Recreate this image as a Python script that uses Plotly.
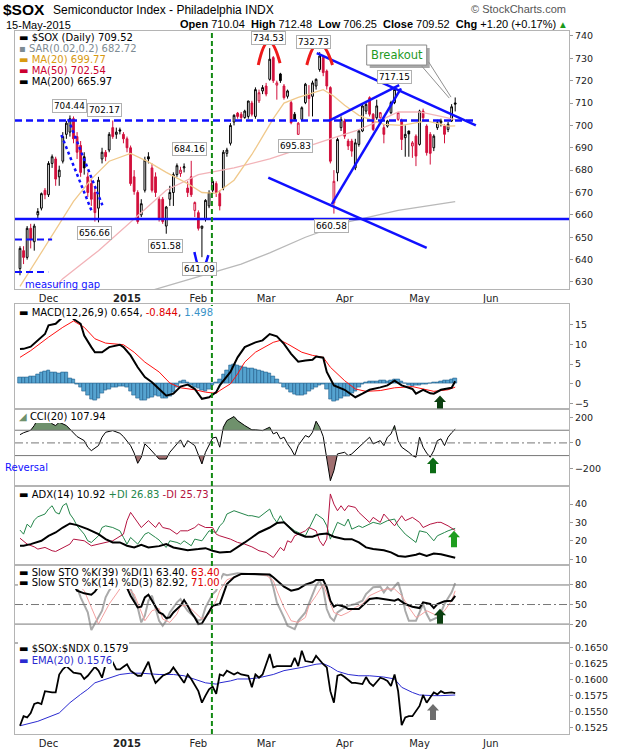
import numpy as np
import pandas as pd
import plotly.graph_objects as go

# trading calendar (NYSE holidays inside the window)
HOLIDAYS = ["2014-11-27", "2014-12-25", "2015-01-01", "2015-01-19",
            "2015-02-16", "2015-04-03", "2015-05-25"]
sessions = pd.bdate_range("2014-11-18", "2015-06-30", freq="C", holidays=HOLIDAYS)

# ---- $SOX daily candles, 18-Nov-2014 .. 15-May-2015 ----
opens = [636, 644, 641, 654, 648, 660, 663, 671, 669, 683,
         685, 677, 684, 696, 697, 703, 695, 691, 686, 677,
         674, 670, 663, 685, 688, 689, 699, 696, 698, 696,
         694, 690, 677, 670, 660, 671, 686, 681, 677, 667,
         667, 655, 667, 670, 678, 678.5, 681, 672, 677, 662,
         661, 654, 658, 664, 671, 674, 669.5, 672, 687.5, 692,
         701.5, 705.5, 705, 703.5, 704, 710, 704, 711, 715.4, 717.6,
         720.6, 730.3, 718, 723, 717.6, 713, 710.2, 705, 696, 702.7,
         710.2, 714, 713, 717.6, 725, 730.3, 724.3, 716.9, 665.4, 678.8,
         699, 702, 693, 693, 681, 691.5, 697.5, 706.4, 712.4, 705,
         703.4, 703.4, 699, 699.7, 705.7, 710.2, 702.7, 702, 694.5, 697.5,
         690.8, 695.2, 691.5, 706.4, 699.7, 696, 690, 699, 701.2, 699.7,
         698.2, 702, 710.04]
highs = [646, 646, 655, 656, 656, 663, 670, 672, 684, 687,
         686, 682, 697, 702, 704.44, 704, 697, 693, 688, 679,
         676, 672, 677, 690, 689, 697, 702.17, 699, 699, 697,
         695, 691, 680, 671, 667, 686, 688, 683, 679, 668,
         668, 664, 673, 679, 683, 681.5, 683, 675, 684.16, 666,
         662, 655, 667, 671, 676, 675, 671, 689, 690, 701,
         705, 706, 706, 707, 711, 711, 717, 716, 718, 719,
         734.53, 731, 720, 723.5, 718.5, 716, 711, 706, 701.5, 708.5,
         719, 718, 720, 721, 732.73, 731.5, 725, 717.5, 680, 694.5,
         704, 703, 694, 694, 694, 698, 709, 710, 713, 705.5,
         711.5, 706, 700.5, 702.5, 711, 717.15, 706, 703, 700, 697.6,
         693, 696, 707, 707.5, 700.5, 697, 696, 702.5, 703, 700.5,
         701.5, 709.5, 712.48]
lows = [633, 638, 640, 645, 644, 658, 662, 667, 668, 681,
        673, 673, 683, 694, 695, 692, 685, 677, 678, 668,
        664, 657, 656.66, 683, 684, 688, 694, 694, 696, 692,
        688, 673, 669, 656, 659, 670, 683, 670, 668, 657,
        656, 651.58, 664, 664, 677, 677, 679, 668, 668, 659,
        653, 641.09, 657, 663, 670, 668, 662, 671, 686, 691,
        700, 703, 702, 703, 703, 704, 703, 710, 714, 713,
        720, 719, 711.5, 719, 711.5, 712, 700.5, 702, 695.83, 702,
        709.5, 704, 704, 716, 724, 722, 716, 683, 660.58, 675,
        697.5, 694, 689, 686, 680, 690.5, 697, 705, 704, 697.5,
        702.5, 703, 692, 699, 705, 709.5, 702, 689, 686, 686,
        685.5, 681.8, 691, 702.5, 686.5, 682.5, 688.5, 698, 699.5, 692,
        697, 701.5, 706.25]
closes = [645, 641, 654, 649, 655, 661.5, 669.5, 669, 683, 686,
          676, 680, 695, 701, 703, 694, 688, 679, 681, 670,
          667, 661, 675.5, 688, 686, 696, 695, 697, 697.5, 694,
          690, 674, 670.5, 657, 665, 684.5, 685, 671, 670, 658.5,
          657, 663.5, 670, 678, 682, 680, 681.5, 670, 669, 665.5,
          654, 655, 666.5, 670, 675, 670, 664, 688, 689, 700,
          704.5, 704, 703.5, 706.4, 710.9, 705, 716, 714.6, 716.9, 714,
          729.6, 720, 719, 720, 712.4, 715.4, 701.2, 702.7, 701, 707.9,
          718.4, 712, 719, 720.6, 731, 723.6, 717.6, 684, 675, 693.7,
          702.7, 695.2, 690.8, 688.5, 692.2, 697.5, 708.7, 709.4, 705, 698.2,
          708.7, 705.7, 696, 702, 710.2, 716.1, 705.7, 693.7, 696, 696.2,
          692.2, 686.3, 706.4, 703.4, 687.8, 687.5, 695.2, 701.2, 702, 696,
          700.5, 708.32, 709.52]

# overlays on the price panel (session number -> value)
ma20_day = [0, 4, 8, 11, 15, 20, 25, 31, 36, 41, 47, 51, 55, 60, 62, 65, 68, 71, 74, 78,
            81, 85, 88, 91, 95, 98, 102, 107, 114, 120, 122]
ma20_val = [628, 638, 648, 656, 666, 676, 684, 687.5, 683.7, 679, 674, 670, 669.6, 675.5, 680,
            687, 695, 703, 710, 712.5, 714, 716, 713, 709, 704.5, 702.7, 700.5, 700, 702,
            699.7, 699.77]
ma50_day = [10, 12, 22, 32, 41, 50, 60, 70, 80, 87, 94, 100, 106, 112, 118, 122]
ma50_val = [628, 631.5, 644, 658, 671, 678, 681, 685, 690.5, 694, 697.5, 701.5, 706, 706,
            704, 702.54]
ma200_day = [30, 38, 45, 54, 62, 70, 80, 92, 106, 122]
ma200_val = [623, 626.7, 630, 634, 638, 643, 650, 656.9, 662, 665.97]

# MACD(12,26,9)
macd_day = [0, 1, 3, 5, 7, 8, 10, 12, 13, 14, 15, 17, 18, 20, 21, 23, 25, 28, 29, 31,
            33, 35, 37, 39, 41, 43, 45, 47, 49, 51, 53, 55, 56, 59, 61, 63, 66, 68, 70, 72,
            74, 76, 78, 80, 82, 83, 85, 86, 88, 91, 94, 96, 98, 101, 103, 105, 107, 110, 111, 113,
            115, 116, 118, 121, 122]
macd_val = [8.8, 8.85, 9.4, 11.0, 12.6, 14.8, 15.2, 16.9, 17.8, 17.6, 16.4, 15.2, 12.2, 9.3, 8.0,
            8.0, 9.3, 9.9, 9.3, 7.2, 4.2, 1.7, 0.4, -1.3, -3.0, -2.5, -0.7, -0.2, -1.3, -3.8,
            -3.4, -2.1, -0.4, 3.0, 6.7, 9.3, 10.5, 11.0, 12.6, 12.0, 10.1, 7.6, 5.6, 5.9, 6.1,
            6.9, 6.6, 3.0, -0.4, -1.5, -3.4, -2.5, -1.5, -0.9, -0.4, 0.8, -0.4, -1.3, -2.5, -1.5,
            -2.4, -2.5, -1.5, -1.0, 0.654]
signal_day = [0, 3, 8, 12, 15, 18, 21, 24, 29, 32, 35, 39, 42, 45, 49, 52, 55, 56, 59, 61,
              63, 66, 71, 73, 75, 79, 82, 85, 87, 91, 94, 97, 101, 105, 110, 113, 116, 120, 122]
signal_val = [6.7, 8.4, 11.8, 14.3, 15.9, 14.3, 11.4, 10.3, 9.9, 8.0, 5.5, 3.0, 0.2, -1.0, -1.5,
              -2.1, -2.4, -1.7, 0.0, 2.5, 5.5, 8.0, 10.5, 11.0, 10.1, 8.0, 7.2, 6.7, 4.2, 0.8,
              -1.3, -1.9, -1.7, -1.0, -0.7, -1.3, -1.9, -1.5, -0.844]
macd_hist = [1.7, 1.6, 1.6, 1.8, 1.9, 2.5, 2.8, 3.2, 3.3, 3.0,
             2.8, 2.7, 3.0, 2.8, 1.5, 1.2, -0.2, -1.0, -2.0, -3.0,
             -4.0, -4.3, -3.6, -2.5, -1.7, -1.3, -1.0, -0.8, -0.6, -0.7,
             -1.0, -1.8, -2.8, -3.6, -4.3, -4.2, -3.6, -3.4, -3.0, -3.2,
             -3.8, -3.7, -3.2, -2.2, -0.8, 0.5, 0.8, 0.3, -0.4, -0.8,
             -1.2, -1.6, -1.8, -1.4, -0.5, 0.3, 1.0, 2.3, 3.5, 4.6,
             4.8, 4.7, 4.5, 4.2, 4.0, 3.8, 3.6, 3.4, 3.2, 3.0,
             2.6, 1.9, 1.0, 0.0, -0.8, -1.4, -2.2, -2.7, -3.0, -3.0,
             -2.6, -1.8, -1.4, -0.8, -0.5, -0.2, -1.5, -4.0, -4.4, -4.2,
             -3.6, -3.3, -3.1, -2.5, -1.8, -1.0, -0.2, 0.3, 0.5, 0.6,
             0.7, 0.8, 0.9, 0.6, 0.8, 1.0, 1.2, 0.7, 0.0, -0.5,
             -0.7, -0.5, -0.4, -0.2, -0.1, 0.1, 0.3, 0.4, 0.6, 0.8,
             0.9, 1.2, 1.498]

# CCI(20)
cci_day = [0, 1, 3, 4, 5, 7, 8, 9, 10, 11, 13, 14, 16, 18, 19, 20, 22, 23, 24, 26,
           28, 29, 31, 32, 33, 34, 35, 36, 38, 39, 41, 42, 44, 45, 46, 47, 49, 50, 51, 52,
           54, 55, 56, 57, 58, 60, 61, 63, 65, 66, 68, 70, 71, 72, 73, 74, 75, 76, 77, 78,
           80, 81, 82, 83, 84, 85, 86, 87, 88, 89, 91, 92, 93, 94, 95, 96, 97, 98, 99, 101,
           102, 103, 104, 105, 106, 107, 109, 110, 111, 112, 113, 114, 115, 116, 117, 118, 119, 120, 121, 122]
cci_val = [65, 80, 100, 137, 190, 210, 198, 150, 137, 163, 137, 110, 50, 18, -34, -61, -21, 45, 84, 97,
           76, 50, -21, -80, -161, -113, -8, -34, -100, -127, -127, -74, -8, 24, -34, 18, -21, -100, -166, -74,
           39, 45, -34, 124, 176, 208, 176, 137, 103, 103, 97, 124, 71, 84, 32, 45, -8, -48, -100, -21,
           58, 45, 84, 171, 124, 50, -113, -298, -219, -87, -74, -100, -87, -61, -34, -8, 18, 45, -8, 18,
           -21, 45, 71, 137, 18, -34, -74, -100, -113, 45, -34, -80, -113, -60, 18, 32, -21, 45, 80, 107.94]

# ADX(14), +DI, -DI
adx_day = [0, 1, 3, 6, 8, 10, 12, 14, 16, 19, 22, 24, 26, 28, 30, 32, 34, 36, 39, 41,
           43, 45, 47, 50, 52, 54, 56, 59, 61, 63, 65, 67, 70, 72, 74, 75, 77, 80, 82, 84,
           86, 88, 91, 93, 95, 97, 99, 102, 104, 106, 108, 111, 112, 114, 116, 118, 122]
adx_val = [17.4, 17.4, 18.3, 20.1, 22.8, 24.6, 27.3, 29.5, 28.6, 26.4, 23.7, 21.0, 19.2, 19.2, 17.4,
           16.5, 17.9, 16.5, 17.2, 18.3, 16.5, 15.6, 15.0, 15.6, 16.1, 14.7, 13.8, 14.1, 16.5, 19.2,
           21.9, 24.6, 27.3, 29.7, 30.1, 28.2, 24.6, 22.3, 22.3, 23.7, 24.1, 22.3, 21.0, 21.0, 19.2,
           16.5, 15.6, 15.0, 13.8, 11.9, 11.4, 12.5, 13.2, 11.9, 13.2, 12.8, 10.92]
pdi_day = [0, 1, 2, 3, 4, 5, 7, 8, 9, 10, 11, 12, 13, 14, 15, 16, 18, 19, 20, 22,
           23, 24, 26, 28, 29, 30, 31, 33, 35, 36, 38, 39, 40, 41, 42, 44, 45, 46, 48, 49,
           51, 52, 53, 55, 56, 57, 58, 60, 62, 64, 65, 67, 70, 71, 72, 73, 74, 76, 77, 80,
           82, 83, 85, 86, 87, 88, 89, 91, 92, 93, 95, 96, 97, 99, 101, 103, 105, 106, 108, 111,
           112, 114, 116, 117, 119, 120, 122]
pdi_val = [25.9, 23.7, 29.1, 27.3, 31.3, 33.1, 34.6, 37.3, 39.1, 35.5, 34.6, 39.1, 40.4, 34.6, 31.9,
           28.2, 23.7, 20.1, 19.2, 22.8, 27.3, 28.2, 27.3, 25.5, 21.9, 18.3, 21.9, 18.3, 23.7, 24.6,
           21.9, 20.5, 18.3, 16.5, 20.1, 19.2, 18.3, 20.1, 17.4, 21.0, 20.1, 22.8, 25.5, 24.6, 28.2,
           30.1, 34.6, 36.4, 34.9, 33.7, 33.7, 32.8, 37.3, 32.8, 30.1, 33.7, 30.1, 27.3, 25.5, 22.8,
           31.0, 34.6, 31.9, 28.2, 21.0, 25.5, 30.1, 28.2, 31.9, 26.4, 28.2, 27.3, 28.2, 30.1, 29.1,
           31.0, 31.9, 28.2, 23.7, 19.2, 25.5, 24.6, 20.1, 22.8, 24.6, 25.5, 26.83]
mdi_day = [0, 1, 2, 4, 5, 7, 9, 10, 12, 14, 15, 18, 20, 22, 24, 26, 29, 30, 31, 33,
           34, 36, 38, 39, 40, 42, 44, 45, 47, 49, 50, 52, 54, 55, 56, 59, 61, 63, 65, 67,
           69, 71, 72, 73, 74, 75, 76, 77, 78, 80, 81, 82, 83, 84, 85, 86, 87, 88, 89, 90,
           91, 92, 94, 95, 96, 97, 98, 99, 101, 102, 104, 105, 107, 108, 110, 112, 113, 115, 117, 118,
           120, 122]
mdi_val = [21.5, 20.1, 18.3, 16.8, 15.6, 16.5, 14.7, 14.3, 16.5, 18.3, 21.0, 20.1, 17.4, 18.3, 19.2,
           20.1, 23.7, 31.0, 35.5, 30.1, 27.3, 31.0, 27.3, 30.1, 27.3, 26.4, 23.7, 25.5, 25.5, 27.3,
           29.1, 27.3, 27.3, 23.7, 22.8, 21.0, 19.2, 18.3, 16.8, 14.7, 13.8, 11.0, 13.8, 16.5, 14.7,
           20.1, 19.2, 22.8, 23.7, 25.5, 27.3, 26.4, 25.5, 20.1, 17.4, 21.0, 45.5, 40.0, 36.4, 39.1,
           36.4, 39.1, 38.2, 35.5, 33.7, 31.9, 30.1, 32.8, 30.1, 34.6, 30.1, 28.2, 33.7, 31.0, 32.8,
           30.1, 27.3, 29.1, 30.1, 30.1, 28.2, 25.73]

# Slow stochastics
sto39_day = [0, 4, 8, 12, 14, 16, 18, 20, 21, 23, 26, 29, 31, 33, 34, 35, 36, 38, 39, 40,
             41, 42, 43, 45, 46, 47, 48, 49, 50, 51, 52, 54, 55, 56, 57, 58, 60, 62, 65, 70,
             71, 72, 74, 76, 78, 80, 82, 83, 85, 86, 87, 88, 89, 91, 92, 95, 96, 98, 100, 102,
             103, 105, 106, 108, 110, 112, 113, 115, 116, 117, 119, 121, 122]
sto39_val = [85, 92, 97, 98, 90, 71.3, 67.2, 65.1, 69.7, 85, 92, 88, 63.6, 45.6, 46.7, 61.0, 65.1,
             48.2, 37.9, 35.4, 29.2, 30.2, 37.9, 48.2, 56.9, 48.2, 37.9, 30.2, 20.0, 21.0, 30.2,
             48.2, 49.7, 50.8, 66.1, 81.5, 91.8, 96.9, 96.9, 95.9, 91.8, 86.7, 77.4, 71.3, 73.8,
             80.5, 84.1, 87.7, 87.7, 76.4, 55.9, 46.7, 49.7, 46.7, 43.1, 43.1, 48.2, 58.4, 60.0,
             58.4, 58.4, 55.9, 58.4, 50.8, 46.7, 44.6, 53.3, 50.8, 44.6, 50.8, 54.9, 55.9, 63.40]
sto14k_day = [0, 4, 8, 11, 14, 16, 17, 19, 20, 21, 23, 24, 25, 26, 28, 30, 31, 33, 34, 35,
              36, 37, 38, 39, 40, 41, 42, 44, 45, 46, 47, 49, 50, 51, 52, 54, 55, 56, 57, 58,
              61, 64, 67, 70, 71, 72, 74, 75, 77, 78, 80, 82, 83, 84, 85, 86, 87, 88, 89, 91,
              92, 94, 96, 97, 99, 101, 102, 103, 104, 106, 107, 108, 109, 111, 112, 113, 114, 115, 117, 118,
              119, 121, 122]
sto14k_val = [88, 95, 97, 92, 90, 76.4, 61.0, 37.9, 10.8, 20.0, 40.5, 61.0, 71.3, 79.0, 88, 86,
              73.8, 45.6, 22.6, 32.8, 55.9, 63.6, 43.1, 25.1, 17.4, 25.1, 37.9, 53.3, 58.4, 48.2,
              40.5, 30.2, 25.1, 27.7, 45.6, 66.1, 71.3, 86.7, 96.9, 95, 98, 97, 96, 94.4, 76.4,
              53.3, 30.2, 17.4, 12.3, 25.1, 37.9, 66.1, 79.0, 86.7, 73.8, 43.1, 30.2, 25.1, 37.9,
              45.6, 48.2, 50.8, 55.9, 66.1, 76.4, 77.4, 68.7, 76.4, 71.3, 84.1, 66.1, 40.5, 25.1,
              25.1, 37.9, 50.8, 35.4, 25.1, 30.2, 37.9, 50.8, 68.7, 82.92]
sto14d_day = [0, 4, 8, 12, 15, 18, 20, 22, 23, 25, 27, 29, 32, 34, 35, 37, 39, 40, 42, 44,
              45, 47, 49, 51, 53, 55, 56, 58, 62, 66, 69, 71, 72, 74, 76, 78, 80, 81, 83, 85,
              86, 88, 90, 92, 94, 96, 98, 101, 103, 105, 107, 109, 111, 112, 114, 116, 117, 119, 121, 122]
sto14d_val = [85, 93, 96, 94, 85, 71.3, 45.6, 20.0, 30.2, 50.8, 66.1, 82, 66.1, 40.5, 25.1, 40.5,
              44, 27.7, 22.6, 35.4, 48.2, 48.2, 37.9, 27.7, 35.4, 55.9, 71.3, 88, 96, 97, 95, 86.7,
              71.3, 45.6, 25.1, 22.6, 30.2, 48.2, 63.6, 81.5, 66.1, 37.9, 32.8, 37.9, 45.6, 50.8,
              63.6, 71.3, 73.8, 73.8, 63.6, 45.6, 30.2, 32.8, 40.5, 35.4, 32.8, 40.5, 55.9, 71.00]

# $SOX:$NDX ratio and its EMA(20)
ratio_day = [0, 1, 2, 3, 4, 5, 6, 7, 9, 10, 11, 12, 13, 14, 15, 17, 18, 19, 21, 22,
             23, 24, 26, 27, 28, 29, 30, 31, 33, 34, 36, 37, 38, 40, 41, 42, 43, 44, 46, 47,
             48, 50, 51, 52, 53, 54, 55, 56, 57, 58, 60, 61, 62, 64, 65, 66, 67, 68, 70, 71,
             72, 74, 76, 77, 78, 79, 80, 82, 83, 85, 86, 87, 88, 89, 90, 91, 93, 94, 96, 97,
             98, 99, 101, 102, 103, 104, 105, 106, 107, 108, 109, 110, 112, 113, 114, 115, 116, 117, 118, 119,
             121, 122]
ratio_val = [0.1528, 0.1543, 0.1541, 0.1548, 0.1562, 0.1564, 0.1562, 0.1582, 0.1580, 0.1580,
             0.1608, 0.1616, 0.1621, 0.1616, 0.1611, 0.1609, 0.1601, 0.1606, 0.1620, 0.1614,
             0.1603, 0.1624, 0.1627, 0.1616, 0.1616, 0.1620, 0.1624, 0.1614, 0.1606, 0.1606,
             0.1628, 0.1608, 0.1595, 0.1606, 0.1608, 0.1611, 0.1619, 0.1611, 0.1595, 0.1608,
             0.1601, 0.1582, 0.1564, 0.1575, 0.1585, 0.1589, 0.1578, 0.1608, 0.1606, 0.1614,
             0.1608, 0.1611, 0.1608, 0.1606, 0.1588, 0.1608, 0.1603, 0.1608, 0.1640, 0.1619,
             0.1621, 0.1621, 0.1621, 0.1634, 0.1621, 0.1645, 0.1629, 0.1627, 0.1637, 0.1624,
             0.1619, 0.1582, 0.1564, 0.1606, 0.1608, 0.1604, 0.1595, 0.1595, 0.1593, 0.1604,
             0.1595, 0.1590, 0.1603, 0.1601, 0.1598, 0.1590, 0.1608, 0.1582, 0.1529, 0.1541,
             0.1543, 0.1543, 0.1559, 0.1576, 0.1564, 0.1572, 0.1580, 0.1577, 0.1582, 0.1579,
             0.1580, 0.1579]
ema_day = [0, 5, 11, 14, 17, 19, 21, 24, 28, 31, 34, 39, 43, 46, 50, 52, 55, 56, 59, 61,
           64, 67, 71, 74, 79, 83, 85, 87, 89, 92, 95, 98, 102, 105, 107, 110, 112, 114, 116, 118, 122]
ema_val = [0.1528, 0.1535, 0.1548, 0.1564, 0.1577, 0.1585, 0.1595, 0.1601, 0.1608, 0.1610,
           0.1610, 0.1608, 0.1608, 0.1606, 0.1599, 0.1595, 0.1593, 0.1595, 0.1598, 0.1601,
           0.1601, 0.1603, 0.1608, 0.1614, 0.1619, 0.1624, 0.1625, 0.1620, 0.1613, 0.1608,
           0.1606, 0.1606, 0.1604, 0.1601, 0.1588, 0.1580, 0.1576, 0.1575, 0.1575, 0.1575, 0.1576]

FONT = "DejaVu Sans"
ARIAL = "Liberation Sans"
RED = "#d2103c"
BLUE = "#1010ff"
FRAME = "#b4b4b4"
XR = [-1.4, 153.9]

# the browser viewport comes out a little taller than 750 and the photo is squeezed back
# to 750, so the figure is made that tall and vertical margins follow
W, H = 620, 761
SY = H / 750


def px(x):
    return (x - 15) / 554


def py(y):
    return (733 - y) / 702


fig = go.Figure()

# candles: black when close >= previous close, red otherwise; hollow when close > open
o, h, l, c = (np.array(a, dtype=float) for a in (opens, highs, lows, closes))
prev = np.r_[c[0], c[:-1]]
up = c >= prev
for mask, col in [(up, "black"), (~up, RED)]:
    idx = np.where(mask)[0]
    fig.add_trace(go.Candlestick(
        x=idx, open=o[idx], high=h[idx], low=l[idx], close=c[idx],
        increasing=dict(line=dict(color=col, width=1), fillcolor="white"),
        decreasing=dict(line=dict(color=col, width=1), fillcolor=col),
        whiskerwidth=0, hoverinfo="skip", xaxis="x", yaxis="y"))

for d, v, col in [(ma200_day, ma200_val, "#b9b9b9"), (ma50_day, ma50_val, "#f2b3b8"),
                  (ma20_day, ma20_val, "#f0c98c")]:
    fig.add_trace(go.Scatter(x=d, y=v, mode="lines", line=dict(color=col, width=1.3),
                             hoverinfo="skip", xaxis="x", yaxis="y"))

# MACD
fig.add_trace(go.Bar(x=np.arange(len(macd_hist)), y=macd_hist, width=1,
                     marker=dict(color="#55a3d0", line=dict(color="#1f5d8a", width=0.6)),
                     hoverinfo="skip", xaxis="x2", yaxis="y2"))
fig.add_trace(go.Scatter(x=signal_day, y=signal_val, mode="lines", line=dict(color="#ff1010", width=1),
                         hoverinfo="skip", xaxis="x2", yaxis="y2"))
fig.add_trace(go.Scatter(x=macd_day, y=macd_val, mode="lines", line=dict(color="black", width=2),
                         hoverinfo="skip", xaxis="x2", yaxis="y2"))


# CCI with shaded excursions beyond +/-100
def with_crossings(xs, ys, level):
    ox, oy = [xs[0]], [ys[0]]
    for i in range(1, len(xs)):
        x0, y0, x1, y1 = xs[i - 1], ys[i - 1], xs[i], ys[i]
        if (y0 - level) * (y1 - level) < 0:
            t = (level - y0) / (y1 - y0)
            ox.append(x0 + t * (x1 - x0))
            oy.append(level)
        ox.append(x1)
        oy.append(y1)
    return np.array(ox), np.array(oy)


for level, col, fn in [(100, "#6f916c", np.maximum), (-100, "#a06f70", np.minimum)]:
    cx, cy = with_crossings(cci_day, cci_val, level)
    fig.add_trace(go.Scatter(x=cx, y=np.full(len(cx), level), mode="lines", line=dict(width=0),
                             hoverinfo="skip", xaxis="x3", yaxis="y3"))
    fig.add_trace(go.Scatter(x=cx, y=fn(cy, level), mode="lines", line=dict(width=0),
                             fill="tonexty", fillcolor=col, hoverinfo="skip", xaxis="x3", yaxis="y3"))
fig.add_trace(go.Scatter(x=cci_day, y=cci_val, mode="lines", line=dict(color="black", width=1),
                         hoverinfo="skip", xaxis="x3", yaxis="y3"))

# ADX
fig.add_trace(go.Scatter(x=pdi_day, y=pdi_val, mode="lines", line=dict(color="#24854a", width=1),
                         hoverinfo="skip", xaxis="x4", yaxis="y4"))
fig.add_trace(go.Scatter(x=mdi_day, y=mdi_val, mode="lines", line=dict(color="#b41340", width=1),
                         hoverinfo="skip", xaxis="x4", yaxis="y4"))
fig.add_trace(go.Scatter(x=adx_day, y=adx_val, mode="lines", line=dict(color="black", width=2),
                         hoverinfo="skip", xaxis="x4", yaxis="y4"))

# Stochastics
fig.add_trace(go.Scatter(x=sto14k_day, y=sto14k_val, mode="lines", line=dict(color="#aaaaaa", width=2),
                         hoverinfo="skip", xaxis="x5", yaxis="y5"))
fig.add_trace(go.Scatter(x=sto14d_day, y=sto14d_val, mode="lines", line=dict(color="#f3a0a0", width=1),
                         hoverinfo="skip", xaxis="x5", yaxis="y5"))
fig.add_trace(go.Scatter(x=sto39_day, y=sto39_val, mode="lines", line=dict(color="black", width=2),
                         hoverinfo="skip", xaxis="x5", yaxis="y5"))

# ratio
fig.add_trace(go.Scatter(x=ema_day, y=ema_val, mode="lines", line=dict(color="#2a2ad0", width=1),
                         hoverinfo="skip", xaxis="x6", yaxis="y6"))
fig.add_trace(go.Scatter(x=ratio_day, y=ratio_val, mode="lines", line=dict(color="black", width=1.8),
                         hoverinfo="skip", xaxis="x6", yaxis="y6"))

# month ticks
pos = pd.Series(np.arange(len(sessions)), index=sessions)
firsts = pos.groupby([sessions.year, sessions.month]).first().values[1:]
tick_txt = ["<b>2015</b>" if sessions[i].month == 1 else sessions[i].strftime("%b") for i in firsts]

tickfont = dict(family=FONT, size=9.5, color="#222")
panels = [
    ("", [py(289), 1.0], [626.7, 742.2], list(range(630, 741, 10)), None),
    ("2", [py(408), py(304)], [-6.25, 20.1], [-5, 0, 5, 10, 15], None),
    ("3", [py(485), py(408)], [-337, 271], [-200, 0, 200], None),
    ("4", [py(564), py(485)], [7.1, 50], [10, 20, 30, 40], None),
    ("5", [py(642), py(564)], [-8.8, 111], [20, 50, 80], None),
    ("6", [0.0, py(642)], [0.15152, 0.16573], [0.1525, 0.155, 0.1575, 0.16, 0.1625, 0.165], ".4f"),
]
lay = {}
for sfx, dom, rng, tv, fmt in panels:
    xa = dict(range=XR, anchor="y" + sfx, showgrid=False, zeroline=False, showline=True,
              mirror=True, linecolor=FRAME, tickvals=list(firsts), ticktext=tick_txt,
              showticklabels=sfx in ("", "6"), ticks="",
              tickfont=dict(family=FONT, size=10, color="#222"), fixedrange=True)
    if sfx:
        xa["matches"] = "x"
    else:
        xa["rangeslider"] = dict(visible=False)
    ya = dict(domain=dom, range=rng, anchor="x" + sfx, side="right", tickvals=tv,
              ticks="outside", ticklen=3, tickcolor="#999", showline=True, mirror=True,
              linecolor=FRAME, showgrid=False, zeroline=False, tickfont=tickfont, fixedrange=True)
    if fmt:
        ya["tickformat"] = fmt
    lay["xaxis" + sfx] = xa
    lay["yaxis" + sfx] = ya

fig.update_layout(**lay)
fig.update_layout(width=W, height=H, margin=dict(l=15, r=51, t=31 * SY, b=17 * SY),
                  plot_bgcolor="white", paper_bgcolor="white", showlegend=False,
                  barmode="overlay", bargap=0)

shapes = []


def seg(x0, y0, x1, y1, color=BLUE, width=2.5, dash="solid", xref="x", yref="y"):
    shapes.append(dict(type="line", x0=x0, y0=y0, x1=x1, y1=y1, xref=xref, yref=yref,
                       line=dict(color=color, width=width, dash=dash)))


# price panel drawings
seg(0, 658.2, 1, 658.2, xref="paper")
seg(XR[0], 702.17, 127.6, 702.17, dash="7px,4px")
seg(XR[0], 649, 9, 649, width=2, dash="7px,4px")
seg(XR[0], 634.5, 7.9, 634.5, width=2, dash="7px,4px")
seg(11.6, 695.7, 20.0, 662.1, width=2.5, dash="3px,3px")
seg(13.5, 702.8, 23.1, 664.3, width=2.5, dash="3px,3px")
seg(83.2, 732.3, 127.8, 700.0)
seg(86.7, 702.1, 106.3, 718.0)
seg(87.4, 664.8, 106.8, 716.6)
seg(69.6, 676.7, 114.0, 645.2)
for p in ["M 66.8,727 Q 69.6,747.4 72.9,727.8", "M 80.4,727 Q 83.6,746.4 87.6,727"]:
    shapes.append(dict(type="path", path=p, xref="x", yref="y", line=dict(color="#ee1b1b", width=3)))
shapes.append(dict(type="path", path="M 48.9,643.4 Q 50.6,629.3 52.8,642", xref="x", yref="y",
                   line=dict(color=BLUE, width=2.5)))

# reference lines in indicator panels
for yv, dash in [(100, "solid"), (-100, "solid"), (0, "8px,3px,2px,3px")]:
    seg(0, yv, 1, yv, color="#777", width=1, dash=dash, xref="paper", yref="y3")
for yv, dash in [(80, "solid"), (20, "solid"), (50, "8px,3px,2px,3px")]:
    seg(0, yv, 1, yv, color="#777", width=1, dash=dash, xref="paper", yref="y5")

# green vertical marker through all panels
seg(53.8, 0, 53.8, 1, color="#138a13", width=2, dash="5px,3px", yref="paper")

# breakout callout
shapes.append(dict(type="rect", xref="paper", yref="paper", x0=px(369.7), x1=px(429.7),
                   y0=py(68), y1=py(48), fillcolor="#a8a8a8", line=dict(width=0)))
shapes.append(dict(type="rect", xref="paper", yref="paper", x0=px(366.7), x1=px(426.7),
                   y0=py(65), y1=py(45), fillcolor="white", line=dict(color="#8a8a8a", width=1)))
seg(px(421.7), py(66), px(449.3), py(98), color="#909090", width=1, xref="paper", yref="paper")
seg(px(428.5), py(61.7), px(451), py(97), color="#909090", width=1, xref="paper", yref="paper")


def up_arrow(cx, top, bottom, color):
    pts = [(cx, top), (cx + 6, top + 6.5), (cx + 3, top + 6.5), (cx + 3, bottom),
           (cx - 3, bottom), (cx - 3, top + 6.5), (cx - 6, top + 6.5)]
    path = "M " + " L ".join(f"{px(a):.5f},{py(b):.5f}" for a, b in pts) + " Z"
    shapes.append(dict(type="path", path=path, xref="paper", yref="paper",
                       fillcolor=color, line=dict(width=0)))


up_arrow(440, 395, 408, "#0c3f10")
up_arrow(433, 457, 472.5, "#0b6b14")
up_arrow(454, 530, 546.5, "#1f9e1f")
up_arrow(440, 608, 623, "#0c3f10")
up_arrow(433, 703, 719, "#6e6e6e")

fig.update_layout(shapes=shapes)


def note(text, x, y, xref="paper", yref="paper", size=10, color="black", xanchor="left",
         bg=None, border=None, family=FONT):
    fig.add_annotation(text=text, x=x, y=y, xref=xref, yref=yref, xanchor=xanchor,
                       yanchor="middle", showarrow=False,
                       font=dict(family=family, size=size, color=color),
                       bgcolor=bg, bordercolor=border, borderwidth=1 if border else 0, borderpad=1)


# price labels
for txt, k, p in [("704.44", 14, 708.8), ("702.17", 23.7, 706.9), ("656.66", 20.9, 651.7),
                  ("651.58", 40.7, 646.1), ("684.16", 47.6, 689.3), ("641.09", 50.4, 636.0),
                  ("734.53", 69.6, 739.2), ("732.73", 82.2, 737.2), ("695.83", 77.2, 690.8),
                  ("660.58", 87.4, 655.1), ("717.15", 104.9, 721.8)]:
    note(txt, k, p, xref="x", yref="y", size=8.8, xanchor="center", bg="white", border="#b0b0b0")

note("Breakout", px(396.7), py(55), size=11.5, color="#1f9a1f", xanchor="center")
note("measuring gap", px(24), py(284.5), size=10, color=BLUE)
note("Reversal", px(49), py(467), size=10, color=BLUE, xanchor="right")

# header
note("<b>$SOX</b>", px(2), py(9.5), size=15.5, family=ARIAL)
note("Semiconductor Index - Philadelphia INDX", px(52), py(10.5), size=12, family=ARIAL)
note("15-May-2015", px(5), py(25), size=11, family=ARIAL)
note("<b>Open</b> 710.04  <b>High</b> 712.48  <b>Low</b> 706.25  <b>Close</b> 709.52  "
     "<b>Chg</b> +1.20 (+0.17%)", px(557), py(24.5), size=11, xanchor="right", family=ARIAL)
note("▲", px(563), py(24.5), size=7.5, color="#1b9a1b", xanchor="center")
note("© StockCharts.com", px(567), py(9.5), size=11, color="#555", xanchor="right", family=ARIAL)

# panel legends
note("<b>▬</b> $SOX (Daily) 709.52", px(18), py(37))
note("▪ SAR(0.02,0.2) 682.72", px(18), py(48), color="#7d8b93")
note("<b>▬</b> MA(20) 699.77", px(18), py(59.2), color="#d89a10")
note("<b>▬</b> MA(50) 702.54", px(18), py(70.4), color="#cc0030")
note("<b>▬</b> MA(200) 665.97", px(18), py(81.6))
note("<b>▬</b> MACD(12,26,9) 0.654, <span style='color:#e00000'>-0.844</span>, "
     "<span style='color:#3a93c8'>1.498</span>", px(18), py(312.5), bg="white")
note("<span style='color:#6f916c'>◢</span> CCI(20) 107.94", px(18), py(416), bg="white")
note("<b>▬</b> ADX(14) 10.92 <span style='color:#24854a'>+DI 26.83</span> "
     "<span style='color:#b41340'>-DI 25.73</span>", px(18), py(494), bg="white")
note("<b>▬</b> Slow STO %K(39) %D(1) 63.40, <span style='color:#e00000'>63.40</span>",
     px(18), py(571.5), bg="white")
note("<b>▬</b> Slow STO %K(14) %D(3) 82.92, <span style='color:#e00000'>71.00</span>",
     px(18), py(582), bg="white")
note("<b>▬</b> $SOX:$NDX 0.1579", px(18), py(647.5), bg="white")
note("<b>▬</b> EMA(20) 0.1576", px(18), py(659.5), color="#2a2ad0", bg="white")

# drop the page body's default 8px margin so the figure starts at the window corner
fig.write_html("out.html", config={"displayModeBar": False},
               post_script="document.body.style.margin='0';")
